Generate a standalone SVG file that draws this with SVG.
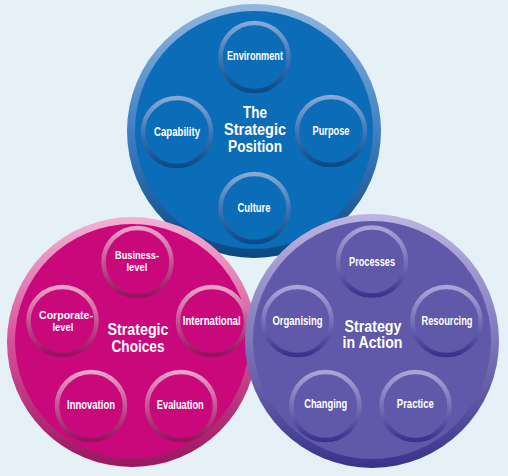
<svg xmlns="http://www.w3.org/2000/svg" width="508" height="476" viewBox="0 0 508 476">
<defs>
<linearGradient id="rimBlue" x1="0" y1="0" x2="0" y2="1"><stop offset="0" stop-color="#92b6e0"/><stop offset="0.5" stop-color="#3f7fc3"/><stop offset="1" stop-color="#0b477f"/></linearGradient>
<linearGradient id="rimPink" x1="0" y1="0" x2="0" y2="1"><stop offset="0" stop-color="#f3b3d3"/><stop offset="0.5" stop-color="#d6509a"/><stop offset="1" stop-color="#9c1560"/></linearGradient>
<linearGradient id="rimPurple" x1="0" y1="0" x2="0" y2="1"><stop offset="0" stop-color="#bdb6e1"/><stop offset="0.5" stop-color="#7d76bb"/><stop offset="1" stop-color="#38328a"/></linearGradient>
<linearGradient id="ringBlue" x1="0" y1="0" x2="0" y2="1"><stop offset="0" stop-color="#86a9d6"/><stop offset="0.5" stop-color="#3f78b8"/><stop offset="1" stop-color="#0b4a88"/></linearGradient>
<linearGradient id="ringPink" x1="0" y1="0" x2="0" y2="1"><stop offset="0" stop-color="#e9a3c9"/><stop offset="0.5" stop-color="#c55595"/><stop offset="1" stop-color="#961160"/></linearGradient>
<linearGradient id="ringPurple" x1="0" y1="0" x2="0" y2="1"><stop offset="0" stop-color="#aca5d8"/><stop offset="0.5" stop-color="#7770b8"/><stop offset="1" stop-color="#39328e"/></linearGradient>
</defs>
<style>
.lbl{font-family:"Liberation Sans",Arial,sans-serif;font-weight:bold;font-size:12px;fill:#ffffff;text-anchor:middle}
.lbl2{font-family:"Liberation Sans",Arial,sans-serif;font-weight:bold;font-size:10.4px;fill:#ffffff;text-anchor:middle}
.ttl{font-family:"Liberation Sans",Arial,sans-serif;font-weight:bold;font-size:16px;fill:#ffffff;text-anchor:middle}
.fb{fill:#0b6cb7}
.fp{fill:#c9087b}
.fv{fill:#6058a8}
.rb{fill:none;stroke:url(#ringBlue);stroke-width:4.5}
.rp{fill:none;stroke:url(#ringPink);stroke-width:4.5}
.rv{fill:none;stroke:url(#ringPurple);stroke-width:4.5}
</style>
<rect x="0" y="0" width="508" height="476" fill="#e5f0f7"/>
<g id="connectors"/>

<g id="strategic-position">
<circle cx="254" cy="131" r="127" fill="url(#rimBlue)"/>
<circle cx="254" cy="130" r="119" class="fb"/>
<text class="ttl" x="255" y="118.3" textLength="24" lengthAdjust="spacingAndGlyphs">The</text>
<text class="ttl" x="255" y="135" textLength="62" lengthAdjust="spacingAndGlyphs">Strategic</text>
<text class="ttl" x="255" y="152.3" textLength="54" lengthAdjust="spacingAndGlyphs">Position</text>
</g>
<g id="environment"><circle cx="254.5" cy="57" r="34" class="rb"/><text class="lbl" x="255" y="59.5" textLength="56" lengthAdjust="spacingAndGlyphs">Environment</text></g>
<g id="capability"><circle cx="177" cy="132" r="34" class="rb"/><text class="lbl" x="177" y="136" textLength="46" lengthAdjust="spacingAndGlyphs">Capability</text></g>
<g id="purpose"><circle cx="331" cy="131" r="34" class="rb"/><text class="lbl" x="331" y="135" textLength="37" lengthAdjust="spacingAndGlyphs">Purpose</text></g>
<g id="culture"><circle cx="254.5" cy="208" r="34" class="rb"/><text class="lbl" x="254" y="211.7" textLength="33" lengthAdjust="spacingAndGlyphs">Culture</text></g>

<g id="strategic-choices">
<circle cx="132" cy="342" r="125" fill="url(#rimPink)"/>
<circle cx="132" cy="341" r="117" class="fp"/>
<text class="ttl" x="138" y="335" textLength="61" lengthAdjust="spacingAndGlyphs">Strategic</text>
<text class="ttl" x="138" y="351.7" textLength="53" lengthAdjust="spacingAndGlyphs">Choices</text>
</g>
<g id="business-level"><circle cx="137.5" cy="262" r="34" class="rp"/><text class="lbl2" x="137" y="259" textLength="44" lengthAdjust="spacingAndGlyphs">Business-</text><text class="lbl2" x="137" y="271.3" textLength="21" lengthAdjust="spacingAndGlyphs">level</text></g>
<g id="corporate-level"><circle cx="62.5" cy="321" r="34" class="rp"/><text class="lbl2" x="66" y="318.5" textLength="54" lengthAdjust="spacingAndGlyphs">Corporate-</text><text class="lbl2" x="63" y="330.6" textLength="21" lengthAdjust="spacingAndGlyphs">level</text></g>
<g id="international"><circle cx="212" cy="321" r="34" class="rp"/><text class="lbl" x="211.7" y="325" textLength="58" lengthAdjust="spacingAndGlyphs">International</text></g>
<g id="innovation"><circle cx="91" cy="406" r="34" class="rp"/><text class="lbl" x="91" y="409" textLength="48" lengthAdjust="spacingAndGlyphs">Innovation</text></g>
<g id="evaluation"><circle cx="181" cy="406" r="34" class="rp"/><text class="lbl" x="180.3" y="409" textLength="47" lengthAdjust="spacingAndGlyphs">Evaluation</text></g>

<g id="strategy-in-action">
<circle cx="372" cy="341" r="127" fill="url(#rimPurple)"/>
<circle cx="372" cy="340" r="119" class="fv"/>
<text class="ttl" x="373" y="331.7" textLength="57" lengthAdjust="spacingAndGlyphs">Strategy</text>
<text class="ttl" x="372.5" y="348.3" textLength="60" lengthAdjust="spacingAndGlyphs">in Action</text>
</g>
<g id="processes"><circle cx="372" cy="261.5" r="34" class="rv"/><text class="lbl" x="372" y="265.7" textLength="46" lengthAdjust="spacingAndGlyphs">Processes</text></g>
<g id="organising"><circle cx="297.5" cy="321" r="34" class="rv"/><text class="lbl" x="297.5" y="325" textLength="50" lengthAdjust="spacingAndGlyphs">Organising</text></g>
<g id="resourcing"><circle cx="446.5" cy="321" r="34" class="rv"/><text class="lbl" x="447" y="325" textLength="51" lengthAdjust="spacingAndGlyphs">Resourcing</text></g>
<g id="changing"><circle cx="325.5" cy="406" r="34" class="rv"/><text class="lbl" x="325.7" y="408.3" textLength="43" lengthAdjust="spacingAndGlyphs">Changing</text></g>
<g id="practice"><circle cx="415.5" cy="406" r="34" class="rv"/><text class="lbl" x="415.3" y="408.3" textLength="37" lengthAdjust="spacingAndGlyphs">Practice</text></g>
</svg>
